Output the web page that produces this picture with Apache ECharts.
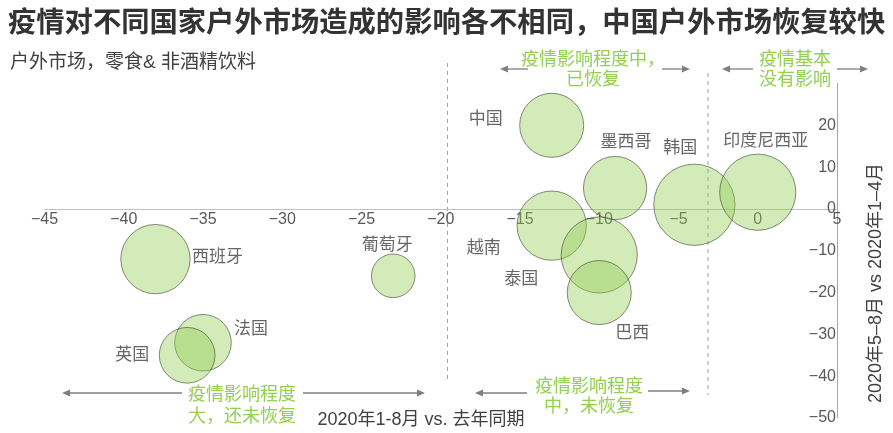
<!DOCTYPE html>
<html>
<head>
<meta charset="utf-8">
<script src="https://cdn.jsdelivr.net/npm/echarts@6/dist/echarts.min.js"></script>
<style>
  html, body { margin: 0; padding: 0; background: #fff; }
  #chart { width: 893px; height: 433px; }
</style>
</head>
<body>
<div id="chart"></div>
<script>
// 国家 / 2020年1-8月 vs 去年同期 / 2020年5-8月 vs 2020年1-4月 / 市场规模
var countries = ["西班牙", "葡萄牙", "法国", "英国", "中国", "墨西哥", "韩国", "印度尼西亚", "越南", "泰国", "巴西"];
var yoyChange = [-38, -23, -35, -36, -13, -9, -4, 0, -13, -10, -10];
var recovery = [-12, -16, -32, -35, 20, 5, 1, 4, -4, -11, -20];
var marketSize = [48, 19, 32, 31, 41, 40, 66, 58, 48, 58, 41];

// 标签相对气泡中心的偏移
var labelOffset = [[62, -2], [-6, -31], [48, -13], [-55, 0], [-66, -6], [11, -46],
                   [-14, -56], [8, -51], [-68, 23], [-78, 24], [33, 41]];

var cjk = "'Liberation Sans', 'Noto Sans CJK SC', sans-serif";
var green = "#92d050";
var grey = "#7f7f7f";

var gridTop = 83.5, gridBottom = 15, chartH = 433;
var yMin = -50, yMax = 30;
// x轴放在 y=0 处
var xAxisOffset = -(0 - yMin) / (yMax - yMin) * (chartH - gridTop - gridBottom);

function fmt(v) {
    return String(v).replace("-", "\u2212");
}

// 箭头：从 x1 画到 x2，箭头在 x2
function arrow(x1, y, x2) {
    var dir = x2 > x1 ? 1 : -1;
    return {
        type: "group",
        children: [
            { type: "line", shape: { x1: x1, y1: y, x2: x2 - dir * 6, y2: y },
              style: { stroke: grey, lineWidth: 1.3 } },
            { type: "polygon", shape: { points: [[x2, y], [x2 - dir * 8, y - 3.5], [x2 - dir * 8, y + 3.5]] },
              style: { fill: grey } }
        ]
    };
}

function note(text, x, y, lh) {
    return {
        type: "text",
        style: { text: text, x: x, y: y, textAlign: "center", textVerticalAlign: "middle",
                 font: "18px " + cjk, fill: green, lineHeight: lh }
    };
}

function vdash(x, y1, y2) {
    return { type: "line", shape: { x1: x, y1: y1, x2: x, y2: y2 },
             style: { stroke: "#a5a59a", lineWidth: 1, lineDash: [4, 4] } };
}

var data = countries.map(function (c, i) {
    return {
        name: c,
        value: [yoyChange[i], recovery[i], marketSize[i]],
        label: { offset: labelOffset[i] }
    };
});

var myChart = echarts.init(document.getElementById("chart"));
var option = {
    animation: false,
    grid: { left: 44.5, right: 56, top: gridTop, bottom: gridBottom },
    xAxis: {
        type: "value",
        min: -45, max: 5, interval: 5,
        offset: xAxisOffset,
        axisLine: { onZero: false, lineStyle: { color: "#bfbfbf", width: 1 } },
        axisTick: { show: false },
        splitLine: { show: false },
        axisLabel: { color: "#595959", fontSize: 16, fontFamily: cjk, margin: 3, formatter: fmt }
    },
    yAxis: {
        type: "value",
        position: "right",
        min: yMin, max: yMax, interval: 10,
        axisLine: { show: true, onZero: false, lineStyle: { color: "#a6a6a6", width: 1 } },
        axisTick: { show: false },
        splitLine: { show: false },
        axisLabel: { inside: true, margin: 1, color: "#595959", fontSize: 16, fontFamily: cjk,
                     showMaxLabel: false, formatter: fmt }
    },
    series: [{
        type: "scatter",
        data: data,
        symbolSize: function (v) { return Math.sqrt(v[2]) * 10; },
        itemStyle: {
            color: "rgba(146,206,80,0.5)",
            borderColor: "rgba(55,65,45,0.75)",
            borderWidth: 1
        },
        label: {
            show: true,
            position: "inside",
            formatter: "{b}",
            color: "#404040",
            fontSize: 17,
            fontFamily: cjk
        },
        emphasis: { disabled: true }
    }],
    graphic: [
        { type: "text", style: { text: "疫情对不同国家户外市场造成的影响各不相同，中国户外市场恢复较快",
            x: 8, y: 24, textVerticalAlign: "middle", font: "bold 28.3px " + cjk, fill: "#333" } },
        { type: "text", style: { text: "户外市场，零食& 非酒精饮料",
            x: 10, y: 63, textVerticalAlign: "middle", font: "19px " + cjk, fill: "#404040" } },
        vdash(447.5, 63, 382),
        vdash(708, 73, 395),
        note("疫情影响程度中，\n已恢复", 593, 70, 20),
        arrow(528, 69, 500), arrow(662, 69, 690),
        note("疫情基本\n没有影响", 795, 70, 20),
        arrow(753, 69, 722), arrow(837, 69, 868),
        note("疫情影响程度\n大，还未恢复", 242, 406, 22),
        arrow(182, 393, 62), arrow(303, 393, 425),
        note("疫情影响程度\n中，未恢复", 589, 397, 20),
        arrow(527, 393, 475), arrow(648, 391, 690),
        { type: "text", style: { text: "2020年1-8月 vs. 去年同期",
            x: 421, y: 420, textAlign: "center", textVerticalAlign: "middle", font: "18px " + cjk, fill: "#404040" } },
        { type: "text", x: 876, y: 283, rotation: Math.PI / 2,
          style: { text: "2020年5–8月 vs 2020年1–4月", x: 0, y: 0, textAlign: "center",
                   textVerticalAlign: "middle", font: "18px " + cjk, fill: "#404040" } }
    ]
};
myChart.setOption(option);
window.addEventListener("resize", function () {
    myChart.resize();
});
</script>
</body>
</html>
